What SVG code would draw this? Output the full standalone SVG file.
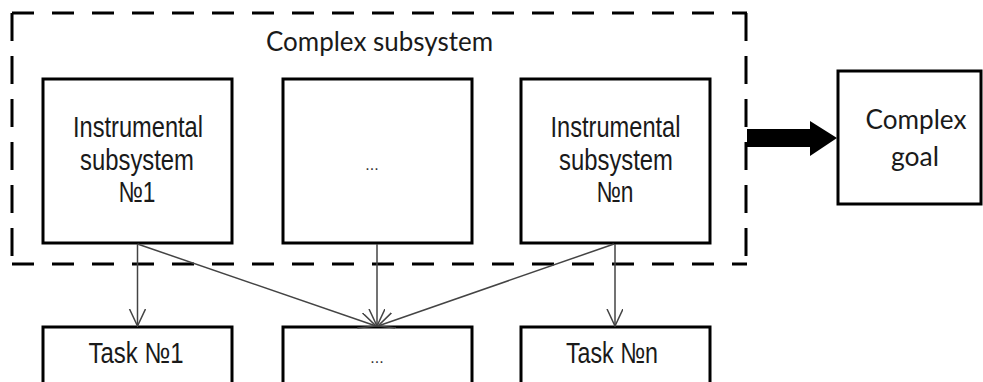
<svg xmlns="http://www.w3.org/2000/svg" width="983" height="382" viewBox="0 0 983 382">
<style>
.box{fill:#fff;stroke:#000;stroke-width:3}
.t{font-family:"Liberation Sans",Arial,sans-serif;font-size:29px;fill:#1a1a1a;text-anchor:middle}
.d{font-family:"Liberation Sans",Arial,sans-serif;font-size:16px;fill:#333;text-anchor:middle}
.c{font-family:Lato,"Liberation Sans",sans-serif;font-size:27px;fill:#1a1a1a;text-anchor:middle}
.dh{stroke:#000;stroke-width:3;stroke-dasharray:22 18;fill:none}
.dv{stroke:#000;stroke-width:3;stroke-dasharray:28 15;fill:none}
.ln{stroke:#444;stroke-width:1.5;fill:none}
</style>
<defs>
<marker id="v" viewBox="0 0 18 18" refX="17" refY="8" markerWidth="18" markerHeight="18" markerUnits="userSpaceOnUse" orient="auto">
<path d="M0,0 L17,8 L0,16" fill="none" stroke="#444" stroke-width="1.5"/>
</marker>
</defs>
<rect width="983" height="382" fill="#fff"/>
<g id="complex-subsystem">
<line class="dh" x1="12" y1="13" x2="747" y2="13"/>
<line class="dh" x1="12" y1="264" x2="747" y2="264"/>
<line class="dv" x1="12" y1="13" x2="12" y2="264"/>
<line class="dv" x1="746" y1="13" x2="746" y2="264"/>
<text class="c" x="379.5" y="51" textLength="227" lengthAdjust="spacingAndGlyphs">Complex subsystem</text>
</g>
<g id="sub1">
<rect class="box" x="43" y="79" width="189" height="164"/>
<text class="t" x="138" y="137" textLength="130" lengthAdjust="spacingAndGlyphs">Instrumental</text>
<text class="t" x="137" y="170" textLength="114" lengthAdjust="spacingAndGlyphs">subsystem</text>
<text class="t" x="137" y="202" textLength="37" lengthAdjust="spacingAndGlyphs">№1</text>
</g>
<g id="sub2">
<rect class="box" x="283" y="79" width="189" height="164"/>
<text class="d" x="372" y="170">...</text>
</g>
<g id="subn">
<rect class="box" x="521" y="79" width="189" height="164"/>
<text class="t" x="615.5" y="137" textLength="130" lengthAdjust="spacingAndGlyphs">Instrumental</text>
<text class="t" x="616" y="170" textLength="114" lengthAdjust="spacingAndGlyphs">subsystem</text>
<text class="t" x="615" y="202" textLength="37" lengthAdjust="spacingAndGlyphs">№n</text>
</g>
<g id="goal">
<rect class="box" x="838" y="71" width="143" height="133"/>
<text class="c" x="916" y="129" textLength="101" lengthAdjust="spacingAndGlyphs">Complex</text>
<text class="c" x="915" y="166" textLength="48" lengthAdjust="spacingAndGlyphs">goal</text>
</g>
<g id="task1">
<rect class="box" x="43" y="327" width="189" height="70"/>
<text class="t" x="136" y="363" textLength="95" lengthAdjust="spacingAndGlyphs">Task №1</text>
</g>
<g id="task2">
<rect class="box" x="283" y="327" width="189" height="70"/>
<text class="d" x="377" y="363">...</text>
</g>
<g id="taskn">
<rect class="box" x="521" y="327" width="189" height="70"/>
<text class="t" x="612" y="363" textLength="92" lengthAdjust="spacingAndGlyphs">Task №n</text>
</g>
<g id="connectors">
<line class="ln" x1="137.5" y1="244" x2="137.5" y2="326" marker-end="url(#v)"/>
<line class="ln" x1="377" y1="244" x2="377" y2="326" marker-end="url(#v)"/>
<line class="ln" x1="615" y1="244" x2="615" y2="326" marker-end="url(#v)"/>
<line class="ln" x1="137.5" y1="244" x2="376" y2="326" marker-end="url(#v)"/>
<line class="ln" x1="614" y1="244" x2="378" y2="326" marker-end="url(#v)"/>
<path d="M747,129 L810,129 L810,121 L837,138 L810,156 L810,147 L747,147 Z" fill="#000"/>
</g>
</svg>
